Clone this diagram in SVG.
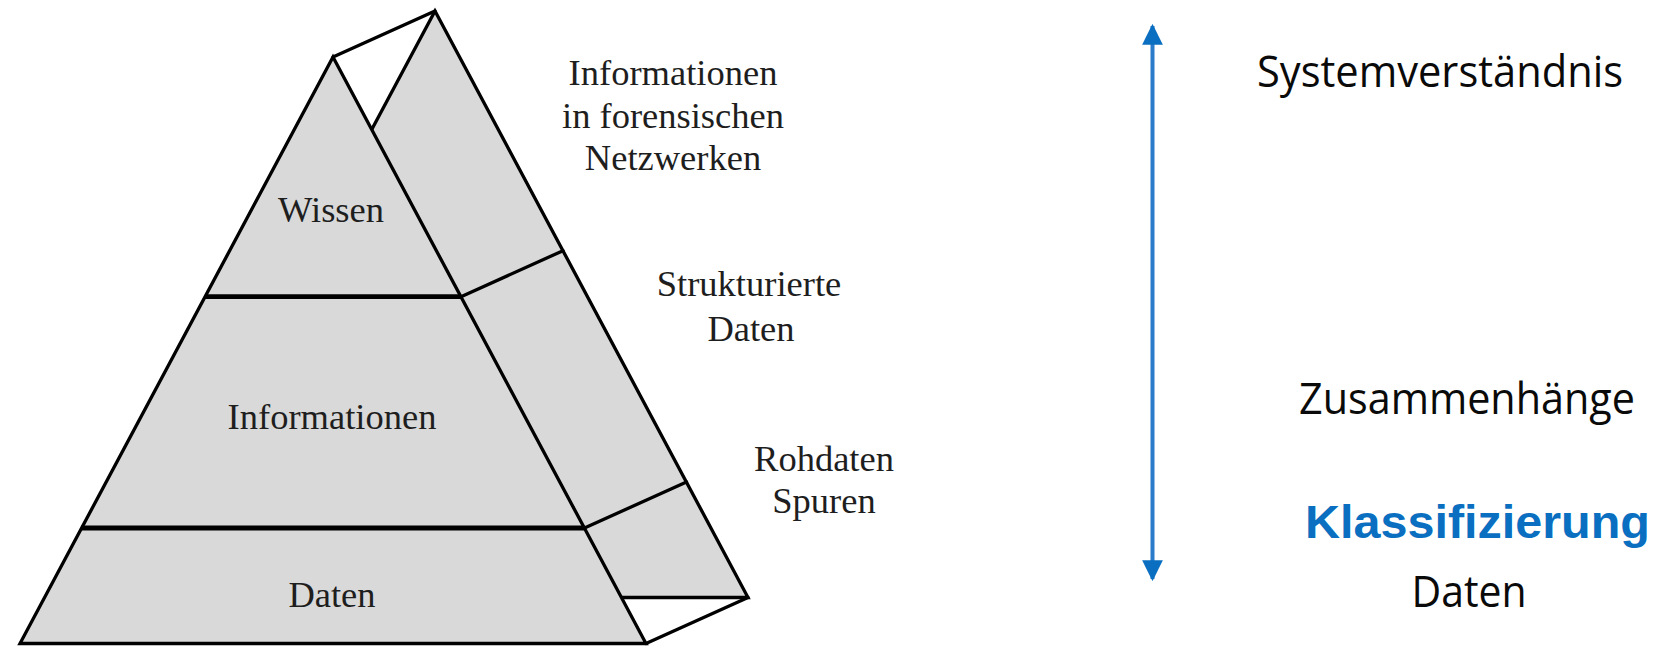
<svg xmlns="http://www.w3.org/2000/svg" width="1655" height="647" viewBox="0 0 1655 647">
  <style>
    .face { fill: #d9d9d9; stroke: #000; stroke-width: 3.3; stroke-linejoin: miter; }
    .edge { fill: none; stroke: #000; stroke-width: 3.3; stroke-linecap: round; }
    .tier { fill: none; stroke: #000; stroke-width: 4.8; }
    .serif { font-family: "Liberation Serif", "Times New Roman", serif; font-size: 36.5px; fill: #1e1e1e; text-anchor: middle; }
    .sans { font-family: "Open Sans", "Noto Sans", sans-serif; font-size: 43px; fill: #0a0a0a; text-anchor: middle; }
    .accent { font-family: "Liberation Sans", Arial, sans-serif; font-weight: bold; font-size: 46px; fill: #0a6fc0; text-anchor: middle; }
    .axis { stroke: #2a7ccb; stroke-width: 4; fill: none; }
  </style>
  <defs>
    <marker id="head" viewBox="0 0 10 10" refX="9" refY="5" markerWidth="5.2" markerHeight="5.2" orient="auto-start-reverse" markerUnits="strokeWidth">
      <path d="M0,0 L10,5 L0,10 Z" fill="#0a6fc0"/>
    </marker>
  </defs>
  <rect width="1655" height="647" fill="#fff"/>

  <!-- rear face of the prism -->
  <g id="prism-back">
    <polygon class="face" points="435,11 748,597.5 122,597.5"/>
  </g>

  <!-- front face with its three layers -->
  <g id="layer-wissen">
    <polygon class="face" points="333,57 646,643.5 20,643.5"/>
    <text class="serif" x="331" y="222">Wissen</text>
  </g>
  <g id="layer-informationen">
    <text class="serif" x="332" y="429">Informationen</text>
  </g>
  <g id="layer-daten">
    <text class="serif" x="332" y="607">Daten</text>
  </g>

  <!-- edges joining front and rear face, plus the layer dividers -->
  <g id="prism-edges">
    <line class="edge" x1="333" y1="57" x2="435" y2="11"/>
    <line class="edge" x1="646" y1="643.5" x2="748" y2="597.5"/>
    <line class="tier" x1="205" y1="296.7" x2="461" y2="296.7"/>
    <line class="edge" x1="461" y1="296.7" x2="563" y2="250.7"/>
    <line class="tier" x1="81.5" y1="528" x2="584.5" y2="528"/>
    <line class="edge" x1="584.5" y1="528" x2="686.5" y2="482"/>
  </g>

  <!-- labels of the rear face -->
  <g id="label-netzwerke">
    <text class="serif" x="673" y="85">Informationen</text>
    <text class="serif" x="673" y="128">in forensischen</text>
    <text class="serif" x="673" y="170">Netzwerken</text>
  </g>
  <g id="label-strukturiert">
    <text class="serif" x="749" y="296">Strukturierte</text>
    <text class="serif" x="751" y="341">Daten</text>
  </g>
  <g id="label-rohdaten">
    <text class="serif" x="824" y="471">Rohdaten</text>
    <text class="serif" x="824" y="513">Spuren</text>
  </g>

  <!-- vertical scale -->
  <g id="connectors">
    <line class="axis" x1="1152.5" y1="26" x2="1152.5" y2="579" marker-start="url(#head)" marker-end="url(#head)"/>
  </g>

  <g id="level-system">
    <text class="sans" x="1440" y="87" textLength="366" lengthAdjust="spacingAndGlyphs">Systemverständnis</text>
  </g>
  <g id="level-zusammenhaenge">
    <text class="sans" x="1467" y="414" textLength="336" lengthAdjust="spacingAndGlyphs">Zusammenhänge</text>
  </g>
  <g id="level-klassifizierung">
    <text class="accent" x="1477.5" y="538" textLength="345" lengthAdjust="spacingAndGlyphs">Klassifizierung</text>
  </g>
  <g id="level-daten">
    <text class="sans" x="1469" y="607" textLength="115" lengthAdjust="spacingAndGlyphs">Daten</text>
  </g>
</svg>
